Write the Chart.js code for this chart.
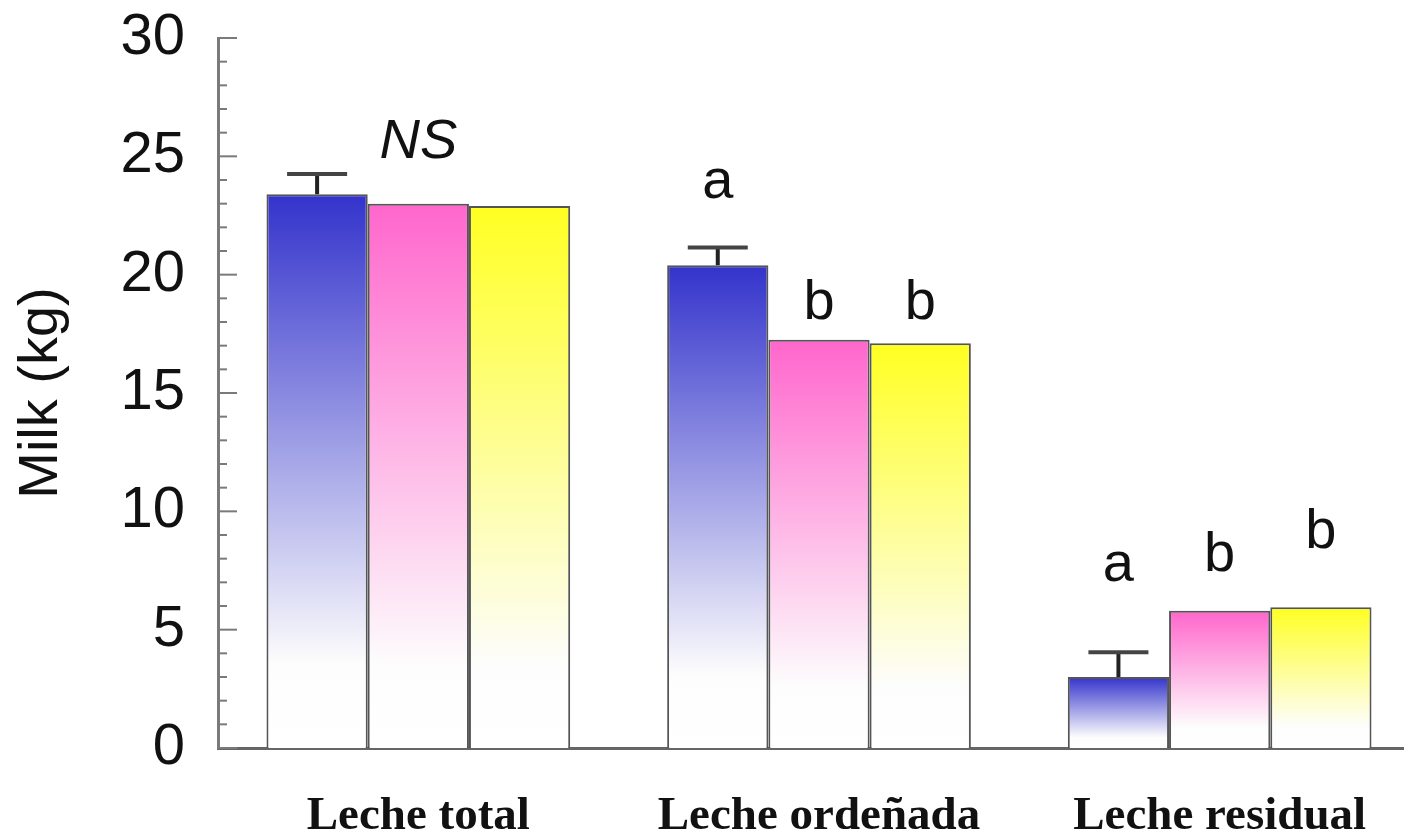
<!DOCTYPE html>
<html>
<head>
<meta charset="utf-8">
<script src="https://cdn.jsdelivr.net/npm/chart.js@4.4.1/dist/chart.umd.min.js"></script>
<style>
  html, body { margin: 0; padding: 0; background: #fff; overflow: hidden; }
  #wrap { width: 1404px; height: 834px; overflow: hidden; }
</style>
</head>
<body>
<div id="wrap"><canvas id="chart" width="1420" height="834"></canvas></div>
<script>
const categories = ['Leche total', 'Leche ordeñada', 'Leche residual']
const yTicks = [0, 5, 10, 15, 20, 25, 30]

// valores (kg)
const blueValues = [23.4, 20.4, 3.0]
const pinkValues = [23.0, 17.25, 5.8]
const yellowValues = [22.9, 17.1, 5.95]
const blueErr = [0.85, 0.75, 1.05]

// letras de significancia y su altura (kg)
const blueLetters = ['', 'a', 'a']
const pinkLetters = ['NS', 'b', 'b']
const yellowLetters = ['', 'b', 'b']
const blueLetterY = [null, 23.9, 7.7]
const pinkLetterY = [25.6, 18.8, 8.15]
const yellowLetterY = [null, 18.8, 9.1]

const SANS = '"Liberation Sans", Arial, sans-serif'
const SERIF = '"Liberation Serif", "Times New Roman", serif'

function barFill(topColor) {
    return function (ctx) {
        const chart = ctx.chart
        if (!chart.chartArea || ctx.raw === undefined) return topColor
        const y = chart.scales.y
        const y0 = y.getPixelForValue(ctx.raw)
        const y1 = y.getPixelForValue(0)
        const g = chart.ctx.createLinearGradient(0, y0, 0, y1)
        g.addColorStop(0, topColor)
        g.addColorStop(0.85, '#fdfdfd')
        g.addColorStop(1, '#ffffff')
        return g
    }
}

const letterSets = [
    { text: blueLetters, y: blueLetterY },
    { text: pinkLetters, y: pinkLetterY },
    { text: yellowLetters, y: yellowLetterY }
]

const extras = {
    id: 'extras',
    afterDatasetsDraw(chart) {
        const ctx = chart.ctx
        const y = chart.scales.y
        const left = chart.chartArea.left

        // marcas del eje y hacia dentro
        ctx.save()
        ctx.strokeStyle = '#7a7a7a'
        ctx.lineWidth = 2
        for (let v = 0; v <= 30; v++) {
            const py = y.getPixelForValue(v)
            const len = v % 5 === 0 ? 19 : 9
            ctx.beginPath()
            ctx.moveTo(left, py)
            ctx.lineTo(left + len, py)
            ctx.stroke()
        }
        ctx.restore()

        // barras de error (solo serie azul)
        const meta = chart.getDatasetMeta(0)
        ctx.save()
        meta.data.forEach((bar, i) => {
            const top = y.getPixelForValue(blueValues[i])
            const errTop = y.getPixelForValue(blueValues[i] + blueErr[i])
            ctx.strokeStyle = '#222'
            ctx.lineWidth = 4
            ctx.beginPath()
            ctx.moveTo(bar.x, top)
            ctx.lineTo(bar.x, errTop)
            ctx.stroke()
            ctx.strokeStyle = '#444'
            ctx.beginPath()
            ctx.moveTo(bar.x - 30, errTop)
            ctx.lineTo(bar.x + 30, errTop)
            ctx.stroke()
        })
        ctx.restore()

        // letras
        ctx.save()
        ctx.fillStyle = '#111'
        ctx.textAlign = 'center'
        ctx.textBaseline = 'middle'
        letterSets.forEach((set, d) => {
            const m = chart.getDatasetMeta(d)
            m.data.forEach((bar, i) => {
                const t = set.text[i]
                if (!t) return
                ctx.font = (t === 'NS' ? 'italic ' : '') + '56px ' + SANS
                ctx.fillText(t, bar.x, y.getPixelForValue(set.y[i]))
            })
        })
        ctx.restore()
    }
}

const data = {
    labels: categories,
    datasets: [
        { label: 'A', data: blueValues, backgroundColor: barFill('#3333cc') },
        { label: 'B', data: pinkValues, backgroundColor: barFill('#ff66cc') },
        { label: 'C', data: yellowValues, backgroundColor: barFill('#ffff22') }
    ]
}

const options = {
    responsive: false,
    animation: false,
    devicePixelRatio: 1,
    layout: { padding: { top: 38, left: 0, right: 0, bottom: 0 } },
    datasets: {
        bar: {
            borderColor: '#555',
            borderWidth: 2,
            categoryPercentage: 0.758,
            barPercentage: 1.0
        }
    },
    plugins: {
        legend: { display: false },
        tooltip: { enabled: false }
    },
    scales: {
        x: {
            type: 'category',
            offset: true,
            grid: { display: false, drawTicks: false },
            border: { display: true, color: '#666', width: 3 },
            ticks: {
                color: '#111',
                padding: 41,
                font: { family: SERIF, size: 47, weight: 'bold' }
            },
            afterFit(scale) {
                scale.height = 86
                scale.paddingLeft = 0
                scale.paddingRight = 0
            }
        },
        y: {
            min: 0,
            max: 30,
            grid: { display: false, drawTicks: false },
            border: { display: true, color: '#7a7a7a', width: 3 },
            afterBuildTicks(scale) {
                const t = []
                for (let v = 0; v <= 30; v++) t.push({ value: v })
                scale.ticks = t
            },
            ticks: {
                autoSkip: false,
                color: '#111',
                padding: 33,
                font: { family: SANS, size: 58 },
                callback: (v) => yTicks.includes(v) ? String(v) : ''
            },
            title: {
                display: true,
                text: 'Milk (kg)',
                color: '#111',
                padding: { top: 8, bottom: 0 },
                font: { family: SANS, size: 56 }
            },
            afterFit(scale) {
                scale.width = 218
                scale.paddingTop = 0
                scale.paddingBottom = 0
            }
        }
    }
}

new Chart(document.getElementById('chart').getContext('2d'), {
    type: 'bar',
    data: data,
    options: options,
    plugins: [extras]
})
</script>
</body>
</html>
